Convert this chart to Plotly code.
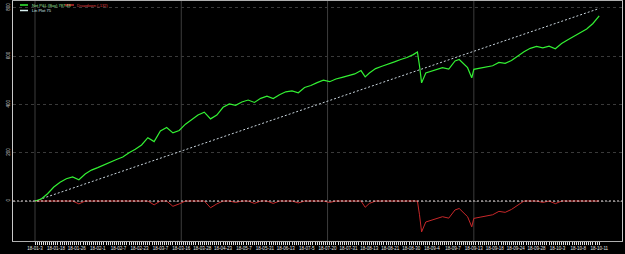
import plotly.graph_objects as go

# ---- data ----
trade_idx = [0, 3, 6, 9, 12, 15, 18, 21, 24, 27, 30, 33, 36, 39, 42, 45, 48, 51, 54, 57,
             60, 63, 66, 69, 72, 75, 78, 81, 84, 87, 90, 93, 96, 99, 102, 105, 108, 111, 114, 117,
             120, 123, 126, 129, 132, 135, 138, 141, 144, 147, 150, 153, 156, 158, 160, 163, 166, 169, 172, 175,
             178, 181, 183, 184, 185, 187, 189, 192, 195, 198, 201, 203, 205, 207, 209, 210, 213, 216, 219, 222,
             225, 228, 231, 234, 237, 240, 243, 246, 249, 252, 255, 258, 261, 264, 267, 270]
equity = [0, 8, 30, 58, 78, 92, 100, 88, 112, 128, 138, 150, 160, 172, 182, 200, 214, 232, 262, 246,
          290, 304, 282, 292, 318, 338, 356, 368, 340, 356, 388, 402, 396, 410, 418, 408, 425, 434, 424, 440,
          452, 456, 448, 470, 478, 490, 500, 494, 505, 512, 518, 526, 540, 514, 530, 548, 558, 566, 576, 586,
          594, 606, 617, 560, 489, 530, 536, 545, 552, 546, 580, 586, 570, 552, 510, 545, 550, 556, 560, 574,
          570, 582, 600, 618, 632, 640, 634, 641, 630, 652, 668, 682, 698, 712, 735, 766]
drawdown = [0, 0, 0, 0, 0, 0, 0, -12, 0, 0, 0, 0, 0, 0, 0, 0, 0, 0, 0, -16,
            0, 0, -22, -12, 0, 0, 0, 0, -28, -12, 0, 0, -6, 0, 0, -10, 0, 0, -10, 0,
            0, 0, -8, 0, 0, 0, 0, -6, 0, 0, 0, 0, 0, -26, -10, 0, 0, 0, 0, 0,
            0, 0, 0, -57, -128, -87, -81, -72, -65, -71, -37, -31, -47, -65, -107, -72, -67, -61, -57, -43,
            -47, -35, -17, 0, 0, 0, -6, 0, -11, 0, 0, 0, 0, 0, 0, 0]
trend_idx = [0, 270]
trend_val = [0, 797]

n_trades = 271
label_every = 10
date_labels = ["18-01-3", "18-01-18", "18-01-26", "18-02-1", "18-02-7", "18-02-23", "18-03-7",
               "18-03-16", "18-03-28", "18-04-23", "18-05-7", "18-05-31", "18-06-13", "18-07-5",
               "18-07-20", "18-07-31", "18-08-13", "18-08-21", "18-08-30", "18-09-4", "18-09-7",
               "18-09-13", "18-09-18", "18-09-24", "18-09-28", "18-10-3", "18-10-8", "18-10-11"]
y_ticks = [0, 200, 400, 600, 800]
vgrid_idx = [0, 70, 140, 210]

legend_net = "Net P&L (Buy) 787.43"
legend_dd = "Drawdown (-132)"
legend_lin = "Lin Plot 75"

GREEN = "#33f033"
RED = "#c8282a"
TREND = "#c8d4dc"
FONT = "Liberation Sans Narrow, Liberation Sans, DejaVu Sans"

fig = go.Figure()
fig.add_trace(go.Scatter(x=trade_idx, y=drawdown, mode="lines",
                         line=dict(color=RED, width=1), name=legend_dd))
fig.add_trace(go.Scatter(x=trend_idx, y=trend_val, mode="lines",
                         line=dict(color=TREND, width=1, dash="2px,2px"), name=legend_lin))
fig.add_trace(go.Scatter(x=trade_idx, y=equity, mode="lines",
                         line=dict(color=GREEN, width=1.2), name=legend_net))

tickvals = list(range(n_trades))
ticktext = [date_labels[i // label_every] if i % label_every == 0 else "" for i in tickvals]

shapes = []
for v in vgrid_idx:
    shapes.append(dict(type="line", xref="x", yref="paper", x0=v, x1=v, y0=0, y1=1,
                       line=dict(color="#3c3c3c", width=1), layer="below"))
shapes.append(dict(type="line", xref="paper", yref="y", x0=0, x1=1, y0=0, y1=0,
                   line=dict(color="#e8e0e0", width=1, dash="2px,2px"), layer="above"))

W, H = 609.0, 240.0
def px(xp):
    return (xp - 13) / W
def py(yp):
    return 1 - (yp - 1) / H

def leg_line(x0, x1, y, color):
    shapes.append(dict(type="line", xref="paper", yref="paper", x0=px(x0), x1=px(x1), y0=py(y), y1=py(y),
                       line=dict(color=color, width=1.5)))

leg_line(20, 28, 5, GREEN)
leg_line(65, 74, 5, RED)
leg_line(20, 28, 10.5, "#d8f0f0")

annotations = [
    dict(x=px(29.5), y=py(5), xref="paper", yref="paper", text=legend_net, showarrow=False,
         xanchor="left", yanchor="middle", font=dict(size=4, color="#9ee89e", family=FONT)),
    dict(x=px(75), y=py(5), xref="paper", yref="paper", text=legend_dd, showarrow=False,
         xanchor="left", yanchor="middle", font=dict(size=4, color="#e04040", family=FONT)),
    dict(x=px(29.5), y=py(10.5), xref="paper", yref="paper", text=legend_lin, showarrow=False,
         xanchor="left", yanchor="middle", font=dict(size=4, color="#d0e8e8", family=FONT)),
]

fig.update_layout(
    width=625, height=254,
    margin=dict(l=13, r=3, t=1, b=13),
    paper_bgcolor="black", plot_bgcolor="black",
    showlegend=False,
    shapes=shapes, annotations=annotations,
    font=dict(family=FONT, color="#d0d0d0", size=4),
    xaxis=dict(range=[-10.53, 280.9], tickmode="array", tickvals=tickvals, ticktext=ticktext,
               ticks="outside", ticklen=3, tickwidth=1, tickcolor="#e0e0e0",
               tickfont=dict(size=4.5, color="#e0e0e0", family=FONT), tickangle=0,
               showgrid=False, zeroline=False, showline=True, linecolor="#b0b0b0", linewidth=1,
               mirror=True, automargin=False),
    yaxis=dict(range=[-165.6, 828], tickvals=y_ticks, ticktext=[str(v) for v in y_ticks],
               tickangle=-90, tickfont=dict(size=4.5, color="#d0d0d0", family=FONT), ticks="",
               showgrid=True, gridcolor="#3a3a3a", griddash="dot", gridwidth=1,
               zeroline=False, showline=True, linecolor="#c8c8c8", linewidth=1,
               mirror=True, automargin=False),
)

fig.write_html("out.html")
